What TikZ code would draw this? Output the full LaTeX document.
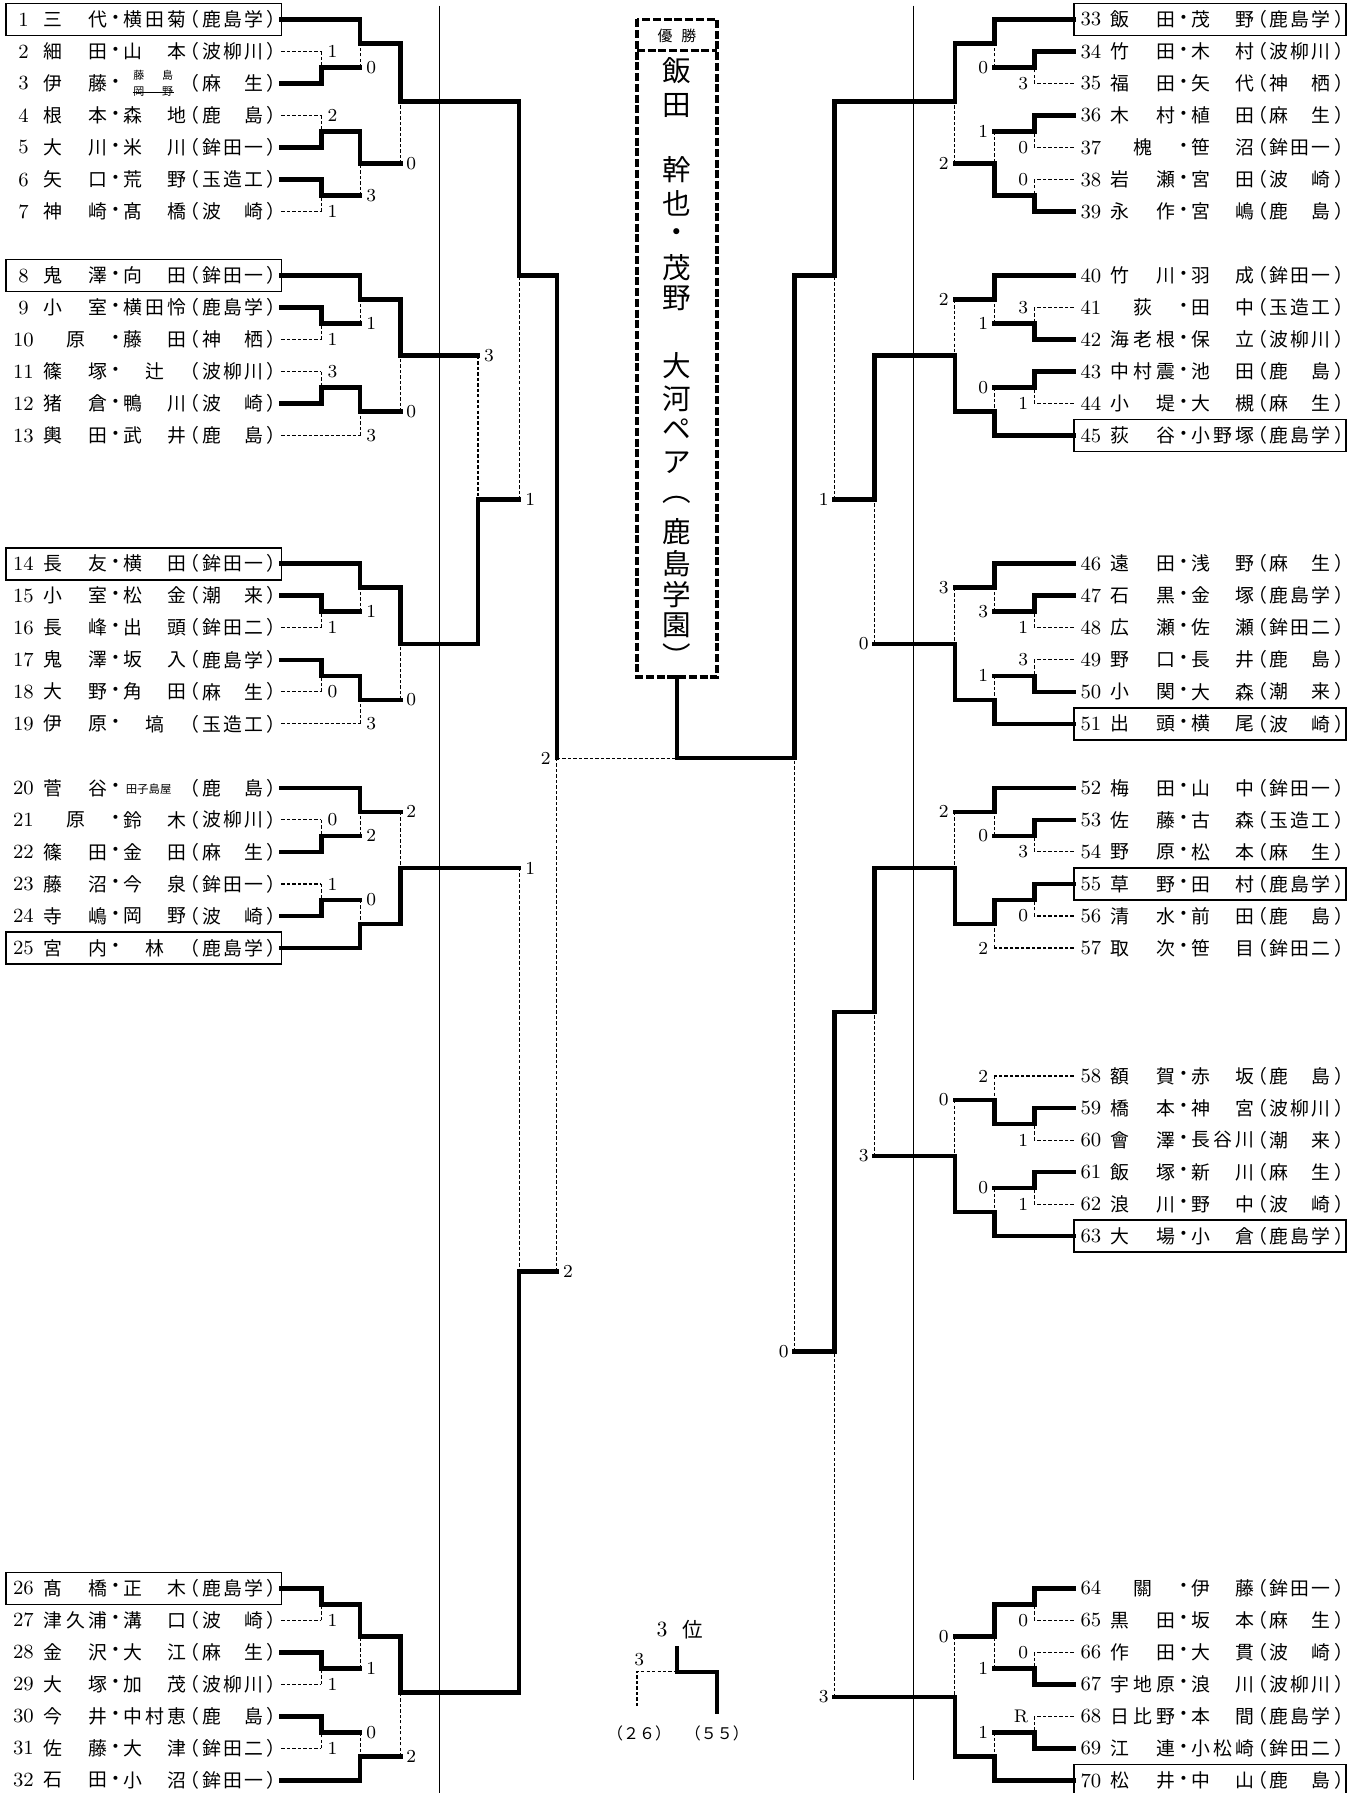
\documentclass[tikz,border=0pt]{standalone}
\usepackage{fontspec}
\newfontfamily\cjk{Noto Sans CJK JP}
\newfontfamily\cjkp[RawFeature=+palt]{Noto Sans CJK JP}
\tikzset{
  win/.style={line width=2pt,line cap=rect},
  lose/.style={line width=0.5pt,dash pattern=on 1.5pt off 0.9pt},
  thinl/.style={line width=0.6pt},
  sc/.style={font=\fontsize{8}{9}\selectfont,inner sep=0pt},
  numst/.style={font=\fontsize{8.8}{10}\selectfont,inner sep=0pt},
  nm/.style={font=\cjk\fontsize{8.25}{9}\selectfont,inner sep=0pt},
  pn/.style={font=\cjkp\fontsize{8.25}{9}\selectfont,inner sep=0pt},
  smallnm/.style={font=\cjk\fontsize{4.8}{5}\selectfont,inner sep=0pt},
  boxst/.style={line width=0.7pt},
  champ/.style={line width=1.5pt,dash pattern=on 3.5pt off 1.2pt},
  champch/.style={font=\cjk\fontsize{12.5}{13}\selectfont,inner sep=0pt},
}
\newcommand\FFi[3]{\makebox[0pt]{#1}\hfill\makebox[0pt]{#2}\hfill\makebox[0pt]{#3}}
\newcommand\FF[2]{\makebox[#1][s]{\FFi#2}}
\newcommand\Nm[6]{%
  \node[numst] (n#3) at (#1+20.5,#2) {#3};
  \node[nm] (a#3) at (#1+66,#2) {\FF{20pt}{#4}};
  \node[pn] (d#3) at (#1+101.5,#2) {・};
  \node[nm] (b#3) at (#1+135.75,#2) {\FF{19.25pt}{#5}};
  \node[pn] (p#3) at (#1+170,#2) {（};
  \node[nm] (s#3) at (#1+203.5,#2) {\FF{18.5pt}{#6}};
  \node[pn] (q#3) at (#1+238,#2) {）};
}
\newcommand\NmX[5]{%
  \node[numst] (n#3) at (#1+20.5,#2) {#3};
  \node[nm] (a#3) at (#1+66,#2) {\FF{20pt}{#4}};
  \node[pn] (d#3) at (#1+101.5,#2) {・};
  \node[pn] (p#3) at (#1+170,#2) {（};
  \node[nm] (s#3) at (#1+203.5,#2) {\FF{18.5pt}{#5}};
  \node[pn] (q#3) at (#1+238,#2) {）};
}
\newcommand\Bx[1]{\draw[boxst] (5.5,#1-14) rectangle (246,#1+14);}
\newcommand\BxR[1]{\draw[boxst] (939,#1-14) rectangle (1177,#1+14);}
% match: #1 column x, #2 xw, #3 yw, #4 xl, #5 yl, #6 ym, #7 score, #8 loser line style
\newcommand\LM[8]{%
  \draw[win] (#2,#3) -- (#1,#3) -- (#1,#6);
  \draw[#8] (#4,#5) -- (#1,#5);
  \draw[lose] (#1,#5) -- (#1,#6);
  \node[sc,anchor=west] at (#1+5,#5) {#7};
}
\newcommand\RM[8]{%
  \draw[win] (#2,#3) -- (#1,#3) -- (#1,#6);
  \draw[#8] (#4,#5) -- (#1,#5);
  \draw[lose] (#1,#5) -- (#1,#6);
  \node[sc,anchor=east] at (#1-5,#5) {#7};
}
\begin{document}
\begin{tikzpicture}[x=0.5pt,y=-0.5pt]
\useasboundingbox (0,0) rectangle (1188,1568);
\fill[white] (0,0) rectangle (1188,1568);
% thin separator lines
\draw[thinl] (384.5,5) -- (384.5,1568);
\draw[thinl] (799,5) -- (799,1557);
% ---------------- left names
\Nm{0}{17}{1}{三　代}{横田菊}{鹿島学}
\Nm{0}{45}{2}{細　田}{山　本}{波柳川}
\NmX{0}{73}{3}{伊　藤}{麻　生}
\node[smallnm] (f3a) at (134,66) {\makebox[12.5pt][s]{\makebox[0pt]{藤}\hfill\makebox[0pt]{島}}};
\node[smallnm] (f3b) at (134,80) {\makebox[12.5pt][s]{\makebox[0pt]{岡}\hfill\makebox[0pt]{野}}};
\draw[line width=0.4pt] (116,81) -- (152,81);
\Nm{0}{101}{4}{根　本}{森　地}{鹿　島}
\Nm{0}{129}{5}{大　川}{米　川}{鉾田一}
\Nm{0}{157}{6}{矢　口}{荒　野}{玉造工}
\Nm{0}{185}{7}{神　崎}{髙　橋}{波　崎}
\Nm{0}{241}{8}{鬼　澤}{向　田}{鉾田一}
\Nm{0}{269}{9}{小　室}{横田怜}{鹿島学}
\Nm{0}{297}{10}{　原　}{藤　田}{神　栖}
\Nm{0}{325}{11}{篠　塚}{　辻　}{波柳川}
\Nm{0}{353}{12}{猪　倉}{鴨　川}{波　崎}
\Nm{0}{381}{13}{輿　田}{武　井}{鹿　島}
\Nm{0}{493}{14}{長　友}{横　田}{鉾田一}
\Nm{0}{521}{15}{小　室}{松　金}{潮　来}
\Nm{0}{549}{16}{長　峰}{出　頭}{鉾田二}
\Nm{0}{577}{17}{鬼　澤}{坂　入}{鹿島学}
\Nm{0}{605}{18}{大　野}{角　田}{麻　生}
\Nm{0}{633}{19}{伊　原}{　塙　}{玉造工}
\NmX{0}{689}{20}{菅　谷}{鹿　島}
\node[smallnm,font=\cjk\fontsize{5}{5}\selectfont] (f20) at (130,690) {田子島屋};
\Nm{0}{717}{21}{　原　}{鈴　木}{波柳川}
\Nm{0}{745}{22}{篠　田}{金　田}{麻　生}
\Nm{0}{773}{23}{藤　沼}{今　泉}{鉾田一}
\Nm{0}{801}{24}{寺　嶋}{岡　野}{波　崎}
\Nm{0}{829}{25}{宮　内}{　林　}{鹿島学}
\Nm{0}{1389}{26}{髙　橋}{正　木}{鹿島学}
\Nm{0}{1417}{27}{津久浦}{溝　口}{波　崎}
\Nm{0}{1445}{28}{金　沢}{大　江}{麻　生}
\Nm{0}{1473}{29}{大　塚}{加　茂}{波柳川}
\Nm{0}{1501}{30}{今　井}{中村恵}{鹿　島}
\Nm{0}{1529}{31}{佐　藤}{大　津}{鉾田二}
\Nm{0}{1557}{32}{石　田}{小　沼}{鉾田一}
\Bx{17}\Bx{241}\Bx{493}\Bx{829}\Bx{1389}
% ---------------- right names
\Nm{933.5}{17}{33}{飯　田}{茂　野}{鹿島学}
\Nm{933.5}{45}{34}{竹　田}{木　村}{波柳川}
\Nm{933.5}{73}{35}{福　田}{矢　代}{神　栖}
\Nm{933.5}{101}{36}{木　村}{植　田}{麻　生}
\Nm{933.5}{129}{37}{　槐　}{笹　沼}{鉾田一}
\Nm{933.5}{157}{38}{岩　瀬}{宮　田}{波　崎}
\Nm{933.5}{185}{39}{永　作}{宮　嶋}{鹿　島}
\Nm{933.5}{241}{40}{竹　川}{羽　成}{鉾田一}
\Nm{933.5}{269}{41}{　荻　}{田　中}{玉造工}
\Nm{933.5}{297}{42}{海老根}{保　立}{波柳川}
\Nm{933.5}{325}{43}{中村震}{池　田}{鹿　島}
\Nm{933.5}{353}{44}{小　堤}{大　槻}{麻　生}
\Nm{933.5}{381}{45}{荻　谷}{小野塚}{鹿島学}
\Nm{933.5}{493}{46}{遠　田}{浅　野}{麻　生}
\Nm{933.5}{521}{47}{石　黒}{金　塚}{鹿島学}
\Nm{933.5}{549}{48}{広　瀬}{佐　瀬}{鉾田二}
\Nm{933.5}{577}{49}{野　口}{長　井}{鹿　島}
\Nm{933.5}{605}{50}{小　関}{大　森}{潮　来}
\Nm{933.5}{633}{51}{出　頭}{横　尾}{波　崎}
\Nm{933.5}{689}{52}{梅　田}{山　中}{鉾田一}
\Nm{933.5}{717}{53}{佐　藤}{古　森}{玉造工}
\Nm{933.5}{745}{54}{野　原}{松　本}{麻　生}
\Nm{933.5}{773}{55}{草　野}{田　村}{鹿島学}
\Nm{933.5}{801}{56}{清　水}{前　田}{鹿　島}
\Nm{933.5}{829}{57}{取　次}{笹　目}{鉾田二}
\Nm{933.5}{941}{58}{額　賀}{赤　坂}{鹿　島}
\Nm{933.5}{969}{59}{橋　本}{神　宮}{波柳川}
\Nm{933.5}{997}{60}{會　澤}{長谷川}{潮　来}
\Nm{933.5}{1025}{61}{飯　塚}{新　川}{麻　生}
\Nm{933.5}{1053}{62}{浪　川}{野　中}{波　崎}
\Nm{933.5}{1081}{63}{大　場}{小　倉}{鹿島学}
\Nm{933.5}{1389}{64}{　關　}{伊　藤}{鉾田一}
\Nm{933.5}{1417}{65}{黒　田}{坂　本}{麻　生}
\Nm{933.5}{1445}{66}{作　田}{大　貫}{波　崎}
\Nm{933.5}{1473}{67}{宇地原}{浪　川}{波柳川}
\Nm{933.5}{1501}{68}{日比野}{本　間}{鹿島学}
\Nm{933.5}{1529}{69}{江　連}{小松崎}{鉾田二}
\Nm{933.5}{1557}{70}{松　井}{中　山}{鹿　島}
\BxR{17}\BxR{381}\BxR{633}\BxR{773}\BxR{1081}\BxR{1557}
% ---------------- left bracket
\LM{281}{246}{73}{246}{45}{59}{1}{lose}
\LM{315}{246}{17}{281}{59}{38}{0}{win}
\LM{281}{246}{129}{246}{101}{115}{2}{lose}
\LM{281}{246}{157}{246}{185}{171}{1}{lose}
\LM{315}{281}{115}{281}{171}{143}{3}{win}
\LM{350}{315}{38}{315}{143}{89}{0}{win}
\LM{281}{246}{269}{246}{297}{283}{1}{lose}
\LM{315}{246}{241}{281}{283}{262}{1}{win}
\LM{281}{246}{353}{246}{325}{339}{3}{lose}
\LM{315}{281}{339}{246}{381}{360}{3}{lose}
\LM{350}{315}{262}{315}{360}{311}{0}{win}
\LM{281}{246}{521}{246}{549}{535}{1}{lose}
\LM{315}{246}{493}{281}{535}{514}{1}{win}
\LM{281}{246}{577}{246}{605}{591}{0}{lose}
\LM{315}{281}{591}{246}{633}{612}{3}{lose}
\LM{350}{315}{514}{315}{612}{563}{0}{win}
\LM{418}{350}{563}{350}{311}{437}{3}{win}
\LM{454}{350}{89}{418}{437}{241}{1}{win}
\LM{281}{246}{745}{246}{717}{731}{0}{lose}
\LM{315}{246}{689}{281}{731}{710}{2}{win}
\LM{281}{246}{801}{246}{773}{787}{1}{lose}
\LM{315}{246}{829}{281}{787}{808}{0}{win}
\LM{350}{315}{808}{315}{710}{759}{2}{win}
\LM{281}{246}{1389}{246}{1417}{1403}{1}{lose}
\LM{281}{246}{1445}{246}{1473}{1459}{1}{lose}
\LM{315}{281}{1403}{281}{1459}{1431}{1}{win}
\LM{281}{246}{1501}{246}{1529}{1515}{1}{lose}
\LM{315}{246}{1557}{281}{1515}{1536}{0}{win}
\LM{350}{315}{1431}{315}{1536}{1480}{2}{win}
\LM{454}{350}{1480}{350}{759}{1112}{1}{win}
\LM{487}{454}{241}{454}{1112}{663}{2}{win}
% ---------------- right bracket
\RM{904.5}{939}{45}{939}{73}{59}{3}{lose}
\RM{869.5}{939}{17}{904.5}{59}{38}{0}{win}
\RM{904.5}{939}{101}{939}{129}{115}{0}{lose}
\RM{904.5}{939}{185}{939}{157}{171}{0}{lose}
\RM{869.5}{904.5}{171}{904.5}{115}{143}{1}{win}
\RM{835}{869.5}{38}{869.5}{143}{89}{2}{win}
\RM{904.5}{939}{297}{939}{269}{283}{3}{lose}
\RM{869.5}{939}{241}{904.5}{283}{262}{1}{win}
\RM{904.5}{939}{325}{939}{353}{339}{1}{lose}
\RM{869.5}{939}{381}{904.5}{339}{360}{0}{win}
\RM{835}{869.5}{360}{869.5}{262}{311}{2}{win}
\RM{904.5}{939}{521}{939}{549}{535}{1}{lose}
\RM{869.5}{939}{493}{904.5}{535}{514}{3}{win}
\RM{904.5}{939}{605}{939}{577}{591}{3}{lose}
\RM{869.5}{939}{633}{904.5}{591}{612}{1}{win}
\RM{835}{869.5}{612}{869.5}{514}{563}{3}{win}
\RM{765}{835}{311}{835}{563}{437}{0}{win}
\RM{730}{835}{89}{765}{437}{241}{1}{win}
\RM{904.5}{939}{717}{939}{745}{731}{3}{lose}
\RM{869.5}{939}{689}{904.5}{731}{710}{0}{win}
\RM{904.5}{939}{773}{939}{801}{787}{0}{lose}
\RM{869.5}{904.5}{787}{939}{829}{808}{2}{lose}
\RM{835}{869.5}{808}{869.5}{710}{759}{2}{win}
\RM{904.5}{939}{969}{939}{997}{983}{1}{lose}
\RM{869.5}{904.5}{983}{939}{941}{962}{2}{lose}
\RM{904.5}{939}{1025}{939}{1053}{1039}{1}{lose}
\RM{869.5}{939}{1081}{904.5}{1039}{1060}{0}{win}
\RM{835}{869.5}{1060}{869.5}{962}{1011}{0}{win}
\RM{765}{835}{759}{835}{1011}{885}{3}{win}
\RM{904.5}{939}{1389}{939}{1417}{1403}{0}{lose}
\RM{904.5}{939}{1473}{939}{1445}{1459}{0}{lose}
\RM{869.5}{904.5}{1403}{904.5}{1459}{1431}{1}{win}
\RM{904.5}{939}{1529}{939}{1501}{1515}{R}{lose}
\RM{869.5}{939}{1557}{904.5}{1515}{1536}{1}{win}
\RM{835}{869.5}{1536}{869.5}{1431}{1484}{0}{win}
\RM{730}{765}{885}{835}{1484}{1182}{3}{win}
\RM{695}{730}{241}{730}{1182}{663}{0}{win}
% ---------------- final
\coordinate (fl) at (487,663);
\coordinate (fc) at (592,663);
\coordinate (fr) at (695,663);
\coordinate (cb) at (592,592);
\draw[lose] (fl) -- (fc);
\draw[win] (fr) -- (fc) -- (cb);
\node[sc,anchor=east] (fls) at (482,663) {2};
% ---------------- champion box
\draw[champ] (557,17) rectangle (627,592);
\draw[champ] (557,44) -- (627,44);
\node[font=\cjk\fontsize{6.5}{7}\selectfont,inner sep=0pt] (yusho) at (592,31) {優\hspace{0.6em}勝};
\foreach \c/\yy [count=\i] in {飯/62,田/92,幹/148,也/178,・/206,茂/234,野/261,大/320,河/349,ペ/375,ア/405,︵/437,鹿/465,島/493,学/520,園/547,︶/573}
  \node[champch] (ch\i) at (592,\yy) {\c};
% ---------------- third place
\node[numst,font=\fontsize{9.5}{10}\selectfont] (t3n) at (579,1425) {3};
\node[nm,font=\cjk\fontsize{9}{10}\selectfont] (t3k) at (606,1425) {位};
\coordinate (tl) at (557,1492);
\coordinate (tlc) at (557,1462);
\coordinate (tc) at (592,1462);
\coordinate (tct) at (592,1441);
\coordinate (trc) at (627,1462);
\coordinate (tr) at (627,1497);
\draw[lose] (tl) -- (tlc) -- (tc);
\draw[win] (tr) -- (trc) -- (tc) -- (tct);
\node[sc] (t3s) at (559,1451) {3};
\node[nm,font=\cjk\fontsize{7}{8}\selectfont] (t26) at (559,1516) {（２６）};
\node[nm,font=\cjk\fontsize{7}{8}\selectfont] (t55) at (627,1516) {（５５）};
\end{tikzpicture}
\end{document}
